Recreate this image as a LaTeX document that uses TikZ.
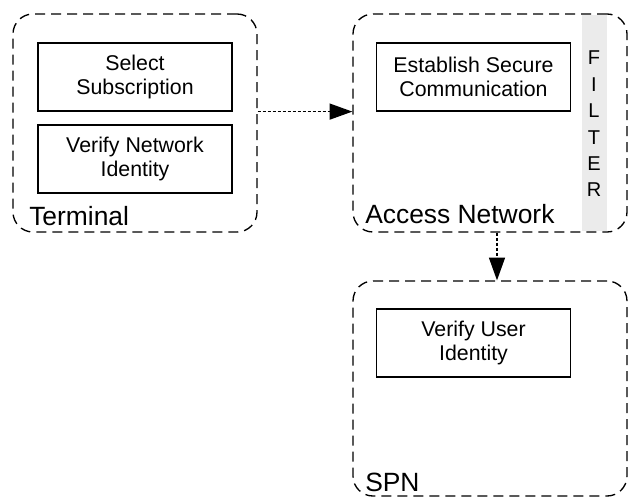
\documentclass[tikz,border=0pt]{standalone}
\usepackage{fontspec}
\setmainfont{Liberation Sans}
\usetikzlibrary{positioning}
\usetikzlibrary{arrows.meta}

\tikzset{
	zone/.style={draw, line width=1pt, dash pattern=on 7.5pt off 4.5pt, rounded corners=15pt},
	task/.style={draw, line width=0.9pt, minimum width=145.5pt, minimum height=51pt, align=center, font=\fontsize{16}{18}\selectfont},
	zonelabel/.style={anchor=base west, inner sep=0pt, font=\fontsize{19.8}{22}\selectfont},
	flow/.style={line width=0.9pt, dash pattern=on 2.25pt off 1.5pt, -{Triangle[length=17pt, width=12pt]}}
}

\begin{document}
\begin{tikzpicture}[x=0.75pt, y=-0.75pt]
	\useasboundingbox (0,0) rectangle (633,497);
	% filter strip
	\fill[black!8] (582,15) rectangle (607,231);
	\node[align=center, inner sep=0pt, font=\fontsize{15}{19.8}\selectfont] (filter) at (594,124) {F\\I\\L\\T\\E\\R};
	% zones
	\node[zone, minimum width=183pt, minimum height=163.5pt] (terminal) at (135,123) {};
	\node[zone, minimum width=205.5pt, minimum height=163.5pt] (access) at (490,123) {};
	\node[zone, minimum width=205.5pt, minimum height=161.25pt] (spn) at (490,388.5) {};
	\node[zonelabel] (terminallabel) at (29,225) {Terminal};
	\node[zonelabel] (accesslabel) at (365,223) {Access Network};
	\node[zonelabel] (spnlabel) at (365,491) {SPN};
	% tasks
	\node[task] (select) at (135,77) {Select\\Subscription};
	\node[task] (verifynet) at (135,159) {Verify Network\\Identity};
	\node[task] (secure) at (473.5,77) {Establish Secure\\Communication};
	\node[task] (verifyuser) at (473.5,343) {Verify User\\Identity};
	% flows
	\draw[flow] (terminal.east |- select.south) -- (access.west |- select.south);
	\draw[flow] (access.south -| 497,0) -- (spn.north -| 497,0);
\end{tikzpicture}
\end{document}
